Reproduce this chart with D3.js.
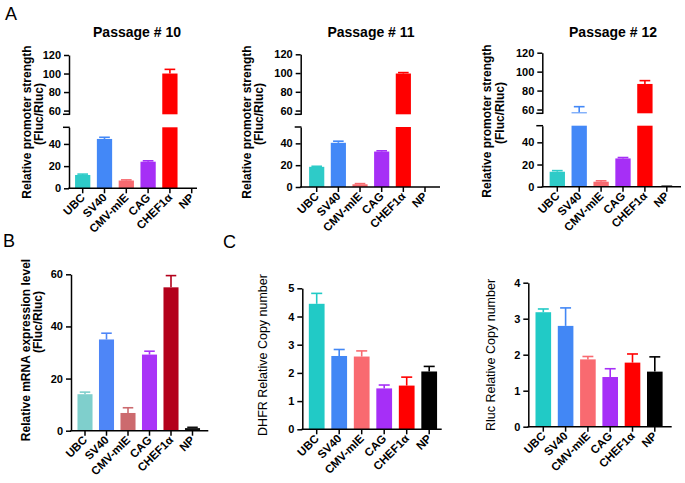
<!DOCTYPE html>
<html>
<head>
<meta charset="utf-8">
<script src="https://cdn.jsdelivr.net/npm/d3@7"></script>
<style>
  body { margin: 0; background: #fff; }
  svg { display: block; }
</style>
</head>
<body>
<div id="app"></div>
<script>
const promoters = ['UBC', 'SV40', 'CMV-mIE', 'CAG', 'CHEF1α', 'NP'];

// A: relative promoter strength (Fluc/Rluc), passages 10-12
const p10Mean = [12, 44.5, 7, 24, 100, 0];
const p10Err = [0.8, 1.5, 0.6, 0.8, 4.5, 0];
const p11Mean = [18.5, 40.5, 2.5, 32.5, 99.5, 0];
const p11Err = [0.5, 1.5, 0.6, 0.7, 1, 0];
const p12Mean = [13.5, 57, 4.5, 25.5, 87, 0.3];
const p12Err = [1, 6, 0.8, 0.8, 3.5, 0.2];

// B: relative mRNA expression
const mrnaMean = [14, 35, 6.8, 29.2, 55, 1];
const mrnaErr = [0.8, 2.4, 2, 1.3, 4.5, 0.3];

// C: copy numbers
const dhfrMean = [4.45, 2.6, 2.58, 1.45, 1.55, 2.05];
const dhfrErr = [0.37, 0.23, 0.2, 0.12, 0.3, 0.18];
const rlucMean = [3.18, 2.8, 1.87, 1.38, 1.78, 1.53];
const rlucErr = [0.09, 0.5, 0.08, 0.23, 0.24, 0.41];

const lowTicks = [0, 20, 40];
const highTicks = [60, 80, 100, 120];
const mrnaTicks = [0, 20, 40, 60];
const dhfrTicks = [0, 1, 2, 3, 4, 5];
const rlucTicks = [0, 1, 2, 3, 4];

const colorsA = ['#2ecbc8', '#4388f7', '#f76a70', '#a62ff6', '#ff0000', '#333333'];
const colorsB = ['#7fcfcc', '#4e86f7', '#cc6a6e', '#a933f7', '#b3001b', '#111111'];
const colorsC = ['#21cac6', '#4287f5', '#f96a70', '#a62ff7', '#ff0000', '#000000'];

const W = 685, H = 483;
const font = "'Liberation Sans', Arial, Helvetica, sans-serif";

const svg = d3.select('#app').append('svg')
  .attr('width', W)
  .attr('height', H)
  .attr('viewBox', `0 0 ${W} ${H}`)
  .style('font-family', font);

svg.append('rect').attr('width', W).attr('height', H).attr('fill', '#fff');

const chart = cfg => {
  const g = svg.append('g');
  const n = promoters.length;
  const x = d3.scaleBand()
    .domain(promoters)
    .range([cfg.c0 - cfg.step / 2, cfg.c0 - cfg.step / 2 + cfg.step * n])
    .paddingInner(0.3)
    .paddingOuter(0.15);
  const bw = x.bandwidth();
  const segs = cfg.segments.map(s => ({ ...s, y: d3.scaleLinear().domain(s.domain).range(s.range) }));
  const base = segs[0].y(0);
  const rows = cfg.mean.map((v, i) => ({ v, e: cfg.err[i], i, name: promoters[i] }));

  // bars, clipped to each axis segment
  segs.forEach(s => {
    const [lo, hi] = s.domain;
    g.append('g').selectAll('rect')
      .data(rows.filter(d => d.v > lo))
      .join('rect')
      .attr('x', d => x(d.name))
      .attr('width', bw)
      .attr('y', d => s.y(Math.min(d.v, hi)))
      .attr('height', d => s.y(lo) - s.y(Math.min(d.v, hi)))
      .attr('fill', d => cfg.colors[d.i]);
  });

  // error bars (upper half only)
  const capW = bw * 0.7;
  rows.filter(d => d.e > 0).forEach(d => {
    const s = segs.find(s => d.v >= s.domain[0] && d.v <= s.domain[1]);
    if (!s) return;
    const cx = x(d.name) + bw / 2;
    const top = s.y(Math.min(d.v + d.e, s.domain[1]));
    const eg = g.append('g').attr('stroke', cfg.colors[d.i]).attr('stroke-width', 1.6);
    eg.append('line').attr('x1', cx).attr('x2', cx).attr('y1', s.y(d.v)).attr('y2', top);
    eg.append('line').attr('x1', cx - capW / 2).attr('x2', cx + capW / 2).attr('y1', top).attr('y2', top);
  });

  // y axis segments
  segs.forEach(s => {
    const ax = g.append('g')
      .attr('transform', `translate(${cfg.x0},0)`)
      .call(d3.axisLeft(s.y).tickValues(s.ticks).tickFormat(d => d)
        .tickSize(5).tickPadding(3).tickSizeOuter(0));
    ax.select('.domain').attr('stroke-width', 1.5);
    ax.selectAll('.tick line').attr('stroke-width', 1.5);
    ax.selectAll('.tick text')
      .attr('font-family', font)
      .attr('font-size', 11)
      .attr('font-weight', 'bold')
      .attr('fill', '#000');
  });

  // break marks
  if (segs.length > 1) {
    [segs[0].range[1], segs[1].range[0]].forEach(yy => {
      g.append('line')
        .attr('x1', cfg.x0 - 6).attr('x2', cfg.x0 + 0.75)
        .attr('y1', yy).attr('y2', yy)
        .attr('stroke', '#000').attr('stroke-width', 1.5);
    });
  }

  // x axis
  g.append('line')
    .attr('x1', cfg.x0 - 0.75).attr('x2', cfg.xEnd)
    .attr('y1', base).attr('y2', base)
    .attr('stroke', '#000').attr('stroke-width', 1.5);
  g.append('g').selectAll('line')
    .data(promoters)
    .join('line')
    .attr('x1', d => x(d) + bw / 2).attr('x2', d => x(d) + bw / 2)
    .attr('y1', base).attr('y2', base + 5)
    .attr('stroke', '#000').attr('stroke-width', 1.5);
  g.append('g').selectAll('text')
    .data(promoters)
    .join('text')
    .attr('transform', d => `translate(${x(d) + bw / 2 + 3},${base + 10}) rotate(-45)`)
    .attr('text-anchor', 'end')
    .attr('font-size', 11.5)
    .attr('font-weight', 'bold')
    .text(d => d);

  // y label
  cfg.ylabel.forEach(l => {
    g.append('text')
      .attr('transform', `translate(${l.x},${l.y}) rotate(-90)`)
      .attr('text-anchor', 'middle')
      .attr('font-size', cfg.labelSize)
      .attr('font-weight', cfg.labelWeight)
      .text(l.text);
  });

  if (cfg.title) {
    g.append('text')
      .attr('x', cfg.title.x).attr('y', 37)
      .attr('text-anchor', 'middle')
      .attr('font-size', 14)
      .attr('font-weight', 'bold')
      .text(cfg.title.text);
  }
};

const brokenSegs = (y0, yLowTop, yHighBottom, yTop) => [
  { domain: [0, 55], range: [y0, yLowTop], ticks: lowTicks },
  { domain: [56, 120], range: [yHighBottom, yTop], ticks: highTicks }
];

chart({
  mean: p10Mean, err: p10Err, colors: colorsA,
  x0: 69, xEnd: 197, c0: 82.7, step: 21.8,
  segments: brokenSegs(188.3, 127.3, 114.3, 55),
  ylabel: [{ text: 'Relative promoter strength', x: 31, y: 122 }, { text: '(Fluc/Rluc)', x: 43, y: 114 }],
  labelSize: 12, labelWeight: 'bold',
  title: { text: 'Passage # 10', x: 137 }
});

chart({
  mean: p11Mean, err: p11Err, colors: colorsA,
  x0: 300.7, xEnd: 440, c0: 316.7, step: 21.66,
  segments: brokenSegs(187, 127, 114.3, 54.3),
  ylabel: [{ text: 'Relative promoter strength', x: 251, y: 122 }, { text: '(Fluc/Rluc)', x: 263, y: 114 }],
  labelSize: 12, labelWeight: 'bold',
  title: { text: 'Passage # 11', x: 371 }
});

chart({
  mean: p12Mean, err: p12Err, colors: colorsA,
  x0: 542.3, xEnd: 681, c0: 557.3, step: 21.9,
  segments: brokenSegs(186.7, 125.7, 113.3, 52.7),
  ylabel: [{ text: 'Relative promoter strength', x: 491, y: 121 }, { text: '(Fluc/Rluc)', x: 504, y: 113 }],
  labelSize: 12, labelWeight: 'bold',
  title: { text: 'Passage # 12', x: 613 }
});

chart({
  mean: mrnaMean, err: mrnaErr, colors: colorsB,
  x0: 71, xEnd: 208.3, c0: 85, step: 21.5,
  segments: [{ domain: [0, 60], range: [430.7, 274.3], ticks: mrnaTicks }],
  ylabel: [{ text: 'Relative mRNA expression level', x: 30, y: 350 }, { text: '(Fluc/Rluc)', x: 42, y: 322 }],
  labelSize: 12, labelWeight: 'bold'
});

chart({
  mean: dhfrMean, err: dhfrErr, colors: colorsC,
  x0: 302.3, xEnd: 441.7, c0: 316.7, step: 22.5,
  segments: [{ domain: [0, 5], range: [429.3, 288.3], ticks: dhfrTicks }],
  ylabel: [{ text: 'DHFR Relative Copy number', x: 267, y: 355 }],
  labelSize: 12.5, labelWeight: 'normal'
});

chart({
  mean: rlucMean, err: rlucErr, colors: colorsC,
  x0: 528.3, xEnd: 671.7, c0: 543.3, step: 22.3,
  segments: [{ domain: [0, 4], range: [426.7, 282.7], ticks: rlucTicks }],
  ylabel: [{ text: 'Rluc Relative Copy number', x: 495, y: 355 }],
  labelSize: 12.5, labelWeight: 'normal'
});

// panel letters
[['A', 5, 20], ['B', 3, 247], ['C', 223, 248]].forEach(([t, lx, ly]) => {
  svg.append('text')
    .attr('x', lx).attr('y', ly)
    .attr('font-size', 18)
    .text(t);
});
</script>
</body>
</html>
